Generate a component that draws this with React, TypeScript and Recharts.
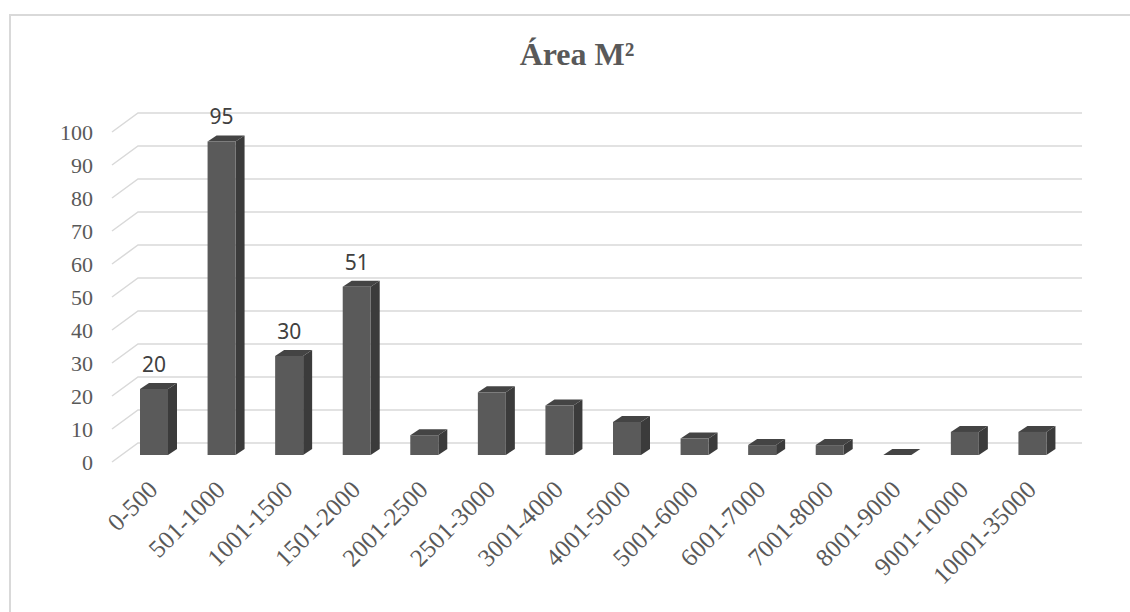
import { BarChart, Bar, XAxis, YAxis, CartesianGrid, LabelList } from "recharts";

// area ranges (m²) and how many lots fall in each
const categories = [
  "0-500",
  "501-1000",
  "1001-1500",
  "1501-2000",
  "2001-2500",
  "2501-3000",
  "3001-4000",
  "4001-5000",
  "5001-6000",
  "6001-7000",
  "7001-8000",
  "8001-9000",
  "9001-10000",
  "10001-35000",
];
const counts = [20, 95, 30, 51, 6, 19, 15, 10, 5, 3, 3, 0, 7, 7];
// only the first four bars carry a value label
const labelled = [true, true, true, true, false, false, false, false, false, false, false, false, false, false];
const yTicks = [0, 10, 20, 30, 40, 50, 60, 70, 80, 90, 100];

const data = categories.map((c, i) => ({
  range: c,
  count: counts[i],
  label: labelled[i] ? counts[i] : null,
}));

const DX = 9;
const DY = 6;

const Bar3D = (props: any) => {
  const { x, y, width, height } = props;
  if (x == null || y == null) return null;
  const h = Math.max(0, height);
  return (
    <g>
      <polygon
        points={`${x + width},${y} ${x + width + DX},${y - DY} ${x + width + DX},${y + h - DY} ${x + width},${y + h}`}
        fill="#3b3b3b"
      />
      <polygon
        points={`${x},${y} ${x + DX},${y - DY} ${x + width + DX},${y - DY} ${x + width},${y}`}
        fill="#444444"
      />
      {h > 0 && <rect x={x} y={y} width={width} height={h} fill="#5a5a5a" />}
    </g>
  );
};

const GridLine = (props: any) => {
  const { x1, x2, y1, key } = props;
  return (
    <path
      key={key}
      d={`M${x1 - 8},${y1 + 7} L${x1 + 18},${y1 - 12} L${x2 + 16},${y1 - 12}`}
      stroke="#d9d9d9"
      strokeWidth={1.5}
      fill="none"
    />
  );
};

const YTick = (props: any) => {
  const { x, y, payload } = props;
  return (
    <text x={x} y={y + 7} dy="0.355em" textAnchor="end" fill="#595959" fontSize={22} fontFamily="'Liberation Serif', serif">
      {payload.value}
    </text>
  );
};

const XTick = (props: any) => {
  const { x, y, payload } = props;
  const ax = x - 1;
  const ay = y + 30;
  return (
    <text
      x={ax}
      y={ay}
      dy="0.355em"
      textAnchor="end"
      transform={`rotate(-45, ${ax}, ${ay})`}
      fill="#595959"
      fontSize={25}
      fontFamily="'Liberation Serif', serif"
    >
      {payload.value}
    </text>
  );
};

const ValueLabel = (props: any) => {
  const { x, y, width, value } = props;
  if (value == null) return null;
  return (
    <text
      x={x + width / 2}
      y={y - 24.5}
      dy="0.355em"
      textAnchor="middle"
      fill="#404040"
      fontSize={21}
      fontFamily="'Noto Sans', sans-serif"
    >
      {value}
    </text>
  );
};

export default function App() {
  return (
    <div style={{ position: "absolute", left: 0, top: 0, width: 1130, height: 612, overflow: "hidden", background: "#fff" }}>
      <div
        style={{
          position: "absolute",
          left: 9,
          top: 14,
          width: 1300,
          height: 800,
          border: "2px solid #d9d9d9",
        }}
      />
      <div style={{ position: "absolute", left: 0, top: 0 }}>
        <BarChart width={1130} height={612} data={data} margin={{ top: 125, right: 64, bottom: 0, left: 0 }}>
          <CartesianGrid vertical={false} horizontal={GridLine} />
          <XAxis
            dataKey="range"
            axisLine={false}
            tickLine={false}
            tickSize={0}
            tickMargin={0}
            height={157}
            interval={0}
            tick={XTick}
          />
          <YAxis
            domain={[0, 100]}
            ticks={yTicks}
            axisLine={false}
            tickLine={false}
            tickSize={0}
            tickMargin={27}
            width={120}
            interval={0}
            tick={YTick}
          />
          <Bar dataKey="count" barSize={28} shape={Bar3D} isAnimationActive={false}>
            <LabelList dataKey="label" content={ValueLabel} />
          </Bar>
        </BarChart>
      </div>
      <svg style={{ position: "absolute", left: 0, top: 0, pointerEvents: "none" }} width={1130} height={612}>
        <text x={577} y={65} textAnchor="middle" fill="#595959" fontSize={32} fontWeight="bold" fontFamily="'Liberation Serif', serif">
          Área M²
        </text>
      </svg>
    </div>
  );
}
